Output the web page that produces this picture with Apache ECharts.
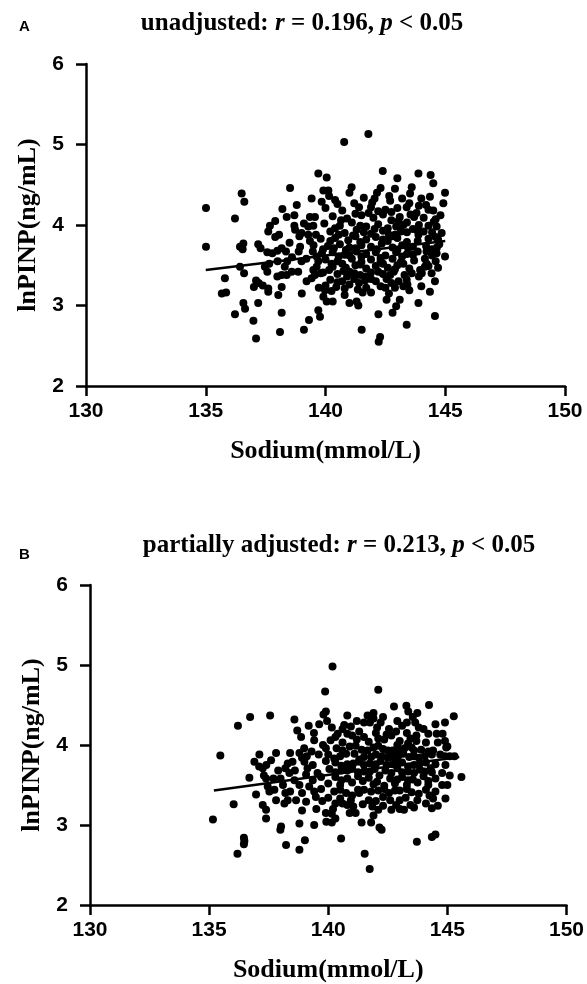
<!DOCTYPE html>
<html>
<head>
<meta charset="utf-8">
<script src="https://cdn.jsdelivr.net/npm/echarts@6/dist/echarts.min.js"></script>
<style>
html,body{margin:0;padding:0;background:#fff;}
#chart{width:587px;height:984px;}
</style>
</head>
<body>
<div id="chart"></div>
<script>
// ---- Data ----
const xTicks = [130, 135, 140, 145, 150];
const yTicks = [2, 3, 4, 5, 6];
const titleA = 'unadjusted: {i|r} = 0.196, {i|p} < 0.05';
const titleB = 'partially adjusted: {i|r} = 0.213, {i|p} < 0.05';
const xName = 'Sodium(mmol/L)';
const yName = 'lnPINP(ng/mL)';

// Panel A: [sodium, lnPINP]
const scatterA = [
[139.70,4.64],[140.05,4.59],[138.52,4.46],[136.50,4.39],[136.61,4.29],[135.01,4.21],[136.22,4.08],[139.42,4.33],[139.91,4.43],[139.84,4.29],
[138.38,4.10],[138.70,4.12],[137.68,3.99],[137.61,3.92],[138.06,3.88],[138.70,3.99],[138.73,3.94],[138.91,3.86],[139.35,4.10],[139.56,4.10],
[139.28,3.98],[139.49,3.99],[139.28,3.88],[139.35,3.80],[135.01,3.73],[136.43,3.73],[136.57,3.77],[136.54,3.70],[137.19,3.76],[137.29,3.71],
[137.57,3.66],[137.78,3.65],[137.99,3.68],[138.17,3.71],[138.35,3.67],[138.94,3.73],[138.88,3.67],[139.50,3.75],[139.47,3.67],[139.63,3.61],
[136.43,3.48],[136.60,3.40],[135.80,3.34],[137.47,3.48],[137.57,3.42],[137.65,3.52],[137.99,3.36],[138.17,3.38],[138.38,3.38],[138.59,3.42],
[138.86,3.42],[137.10,3.31],[137.21,3.28],[137.38,3.25],[137.01,3.23],[137.61,3.21],[137.61,3.17],[138.17,3.23],[138.03,3.13],[135.67,3.15],
[135.85,3.16],[139.01,3.15],[139.21,3.30],[139.42,3.34],[139.56,3.38],[139.63,3.48],[139.49,3.44],[136.57,3.03],[136.64,2.96],[137.19,3.03],
[136.22,2.89],[136.99,2.81],[138.17,2.91],[138.10,2.67],[137.10,2.59],[139.10,2.70],[139.31,2.82],[139.77,2.86],[139.70,2.94],[139.91,3.11],
[140.05,3.05],[139.98,3.19],[139.72,3.22],
[138.50,3.78],[139.00,3.55],[138.40,3.55],[139.70,3.55],[139.10,4.02],[138.00,3.55],[137.90,4.05],
[138.2,4.20],[138.8,4.25],[139.0,3.90],[139.2,3.58],[138.6,3.60],[137.9,3.85],[138.3,3.48],[139.8,3.40],[139.6,3.88],[139.9,3.70],
[141.79,5.13],[140.78,5.03],[142.39,4.67],[143.88,4.64],[144.39,4.62],[144.50,4.52],[143.00,4.58],[141.09,4.47],[140.12,4.43],[144.99,4.40],
[144.92,4.27],[143.53,4.39],[144.36,4.35],[142.66,4.36],[142.30,4.46],[142.15,4.40],[142.05,4.33],[141.95,4.28],[141.90,4.22],[144.20,4.25],
[143.39,4.22],[143.80,4.15],[143.70,4.10],[143.55,4.13],[144.50,4.18],[144.52,4.04],[143.10,4.10],[143.05,4.05],[142.95,3.98],[143.90,4.00],
[143.85,3.93],[143.88,3.88],[144.64,3.98],[144.60,3.85],[144.70,3.82],[144.75,3.76],[144.65,3.72],[144.99,3.61],[144.64,3.65],[144.22,3.67],
[144.22,3.52],[144.15,3.48],[143.95,3.44],[143.90,3.36],[144.02,3.40],[144.43,3.40],[144.57,3.30],[144.36,3.17],[143.88,3.03],[144.57,2.87],
[143.39,2.76],[143.10,3.07],[142.95,2.99],[142.80,2.91],[142.21,2.89],[141.51,2.70],[142.28,2.61],[142.22,2.55],[143.39,3.32],[143.50,3.19],
[143.42,3.26],[142.65,3.15],[142.55,3.07],[141.90,3.16],[141.70,3.22],[141.55,3.16],[141.30,3.05],[141.00,3.03],[140.80,3.13],[140.30,3.05],
[141.37,3.00],
[140.4,4.31],[141.2,4.27],[142.7,4.30],[143.2,4.33],
[140.0,4.21],[140.7,4.18],[141.4,4.22],[142.5,4.19],[143.0,4.21],[143.9,4.24],
[140.3,4.11],[140.9,4.08],[141.5,4.12],[142.0,4.09],[142.4,4.13],[144.1,4.09],[144.8,4.12],
[139.95,4.02],[140.6,3.99],[141.1,4.03],[141.7,3.98],[142.2,4.01],[142.6,3.96],[143.4,4.03],[144.3,3.99],
[140.2,3.92],[140.8,3.90],[141.3,3.94],[141.9,3.89],[142.4,3.93],[142.9,3.88],[143.4,3.91],[144.1,3.92],
[139.8,3.83],[140.4,3.84],[140.95,3.81],[141.25,3.86],[141.7,3.82],[142.1,3.85],[142.6,3.80],[143.0,3.84],[143.4,3.79],[144.3,3.83],
[140.1,3.74],[140.6,3.76],[141.0,3.72],[141.5,3.75],[141.9,3.73],[142.35,3.77],[142.8,3.72],[143.2,3.75],[143.65,3.73],[144.2,3.74],
[139.85,3.65],[140.3,3.66],[140.8,3.63],[141.3,3.67],[141.7,3.64],[142.1,3.66],[142.5,3.62],[142.95,3.66],[143.4,3.64],[143.85,3.67],[144.45,3.62],
[140.0,3.57],[140.5,3.55],[141.1,3.58],[141.5,3.54],[141.9,3.57],[142.3,3.55],[142.8,3.58],[143.15,3.54],[143.7,3.56],[144.6,3.55],
[140.3,3.48],[140.85,3.47],[141.25,3.50],[141.7,3.46],[142.1,3.49],[142.6,3.47],[143.0,3.50],[143.5,3.46],[144.7,3.47],
[139.9,3.41],[140.5,3.39],[141.0,3.42],[141.45,3.38],[141.9,3.41],[142.4,3.39],[142.85,3.42],[143.3,3.38],
[140.2,3.32],[140.7,3.30],[141.2,3.33],[141.65,3.31],[142.1,3.30],[142.55,3.33],[143.05,3.30],
[140.0,3.25],[140.45,3.23],[141.0,3.26],[142.3,3.24],[142.9,3.22],[144.0,3.24],
[140.15,4.36],[141.6,4.34],[142.9,4.45],[143.6,4.47],[144.0,4.33],[141.0,4.40],
[140.5,4.26],[141.8,4.15],[142.75,4.16],[143.5,4.27],[144.3,4.19],
[140.65,4.06],[141.25,4.14],[142.2,4.17],[142.75,4.06],[143.25,4.00],[144.6,4.07],
[140.4,3.96],[141.45,3.99],[142.05,3.95],[143.65,3.95],[144.45,3.91],
[140.55,3.88],[141.15,3.87],[141.6,3.91],[142.65,3.88],[143.15,3.92],[144.85,3.90],
[140.2,3.80],[141.45,3.79],[142.4,3.82],[142.8,3.86],[143.85,3.80],
[140.35,3.71],[140.85,3.69],[141.25,3.71],[142.15,3.70],[143.0,3.69],[143.45,3.71],[144.45,3.70],
[140.55,3.61],[141.0,3.62],[141.5,3.61],[142.3,3.59],[143.2,3.61],[143.65,3.63],[144.15,3.58],
[140.25,3.52],[140.7,3.52],[141.45,3.51],[142.4,3.52],[142.9,3.45],[143.25,3.52],[144.3,3.49],
[140.15,3.44],[140.75,3.43],[141.2,3.40],[141.7,3.36],[142.2,3.42],[142.7,3.38],[143.6,3.40],
[140.5,3.29],[140.9,3.36],[141.4,3.28],[141.9,3.33],[142.75,3.28],[143.25,3.24],
[140.25,3.18],[140.8,3.21],[141.35,3.20],[142.5,3.22]
];
const fitA = [[135.0,3.44],[145.0,3.80]];

// Panel B: [sodium, lnPINP]
const scatterB = [
[136.72,4.35],[137.56,4.37],[136.21,4.24],[138.58,4.32],[139.18,4.24],[139.80,4.38],[139.90,4.42],[139.62,4.26],[138.86,4.10],[139.41,4.06],
[138.99,3.96],[139.78,4.00],[139.90,3.96],[135.47,3.87],[137.11,3.88],[136.90,3.79],[137.81,3.90],[137.60,3.81],[137.40,3.75],[137.25,3.71],
[137.10,3.73],[138.30,3.77],[138.20,3.71],[138.50,3.79],[138.79,3.90],[139.00,3.79],[139.13,3.71],[139.35,3.75],[139.55,3.65],[136.69,3.59],
[137.39,3.58],[137.30,3.62],[138.37,3.65],[138.58,3.56],[138.79,3.50],[139.07,3.63],[139.35,3.56],[137.46,3.48],[137.53,3.42],[137.74,3.44],
[136.97,3.38],[137.25,3.25],[137.39,3.19],[136.03,3.26],[137.81,3.31],[138.20,3.40],[138.30,3.31],[138.16,3.27],[138.65,3.31],[139.07,3.29],
[139.41,3.42],[139.48,3.35],[138.90,3.18],[135.16,3.07],[137.39,3.08],[138.02,2.98],[138.79,3.02],[139.41,3.00],[139.90,3.15],[139.92,3.04],
[138.0,3.58],[138.1,3.50],[138.9,3.84],[139.6,3.88],[139.3,3.92],[139.7,3.45],[139.2,3.48],[138.6,3.68],[139.75,3.30],[139.5,3.20],[138.4,3.90],[137.9,3.68],
[138.7,4.18],[139.1,3.86],[138.4,3.42],[137.7,3.58],[138.9,3.40],[139.7,3.60],[139.9,3.80],[139.4,4.15],
[140.18,4.98],[139.87,4.67],[142.10,4.69],[142.76,4.48],[143.28,4.49],[143.36,4.42],[144.23,4.50],[143.74,4.40],[145.27,4.36],[144.90,4.28],
[141.90,4.40],[141.65,4.37],[141.90,4.33],[141.50,4.28],[141.75,4.28],[142.20,4.28],[142.05,4.22],[140.80,4.37],[140.67,4.25],[140.95,4.23],
[140.15,4.22],[139.95,4.30],[143.10,4.24],[143.30,4.28],[143.65,4.28],[143.80,4.22],[144.00,4.20],[144.20,4.14],[144.55,4.14],[144.80,4.14],
[145.00,3.98],[142.55,4.20],[142.45,4.13],[142.35,4.07],[142.65,4.12],[143.00,4.05],[142.90,4.00],[143.35,4.02],[143.60,3.93],[143.90,3.94],
[144.20,3.92],[144.40,3.93],[144.70,3.88],[144.90,3.86],[145.10,3.86],[145.30,3.86],[144.92,3.75],[145.59,3.60],[144.78,3.65],[144.78,3.50],
[144.92,3.33],[144.20,3.50],[144.10,3.44],[144.10,3.27],[143.74,3.31],[143.00,3.31],[142.85,3.25],[142.65,3.19],[142.60,3.31],[143.18,3.19],
[142.10,3.19],[141.85,3.23],[141.90,3.12],[141.70,3.31],[141.50,3.44],[141.30,3.40],[141.25,3.44],[140.95,3.31],[140.80,3.25],[141.05,3.23],
[141.15,3.15],[140.90,3.15],[140.20,3.20],[140.15,3.14],[140.30,3.08],[140.15,3.03],[141.40,3.03],[141.80,3.03],[142.15,2.97],
[136.19,2.64],[136.46,2.84],[136.48,2.80],[136.46,2.76],[138.23,2.75],[138.79,2.69],[139.02,2.81],[140.54,2.83],[141.53,2.64],[141.74,2.45],
[143.72,2.79],[144.35,2.85],[144.50,2.88],[142.24,2.94],[137.99,2.94],
[140.4,4.14],[141.0,4.12],[141.3,4.17],[143.3,4.15],[143.7,4.12],
[140.1,4.06],[140.6,4.03],[141.2,4.07],[141.7,4.04],[142.1,4.08],[143.7,4.05],[144.6,4.03],
[140.35,3.96],[140.9,3.98],[141.4,3.94],[141.9,3.97],[142.3,3.95],[142.7,3.93],[143.2,3.96],
[140.0,3.88],[140.5,3.86],[141.1,3.89],[141.5,3.85],[142.0,3.88],[142.5,3.84],[142.95,3.87],[143.4,3.85],[143.8,3.84],
[140.3,3.78],[140.8,3.76],[141.3,3.79],[141.75,3.77],[142.2,3.80],[142.7,3.76],[143.1,3.78],[143.6,3.75],[144.1,3.78],[144.5,3.76],
[140.05,3.70],[140.55,3.68],[141.0,3.71],[141.5,3.67],[141.95,3.70],[142.4,3.68],[142.9,3.71],[143.35,3.67],[143.85,3.69],[144.35,3.66],
[140.3,3.60],[140.8,3.58],[141.25,3.61],[141.7,3.59],[142.15,3.62],[142.6,3.58],[143.1,3.60],[143.55,3.57],[144.0,3.61],[144.5,3.58],[145.1,3.62],
[140.0,3.52],[140.5,3.50],[141.0,3.53],[141.9,3.51],[142.35,3.49],[142.8,3.52],[143.3,3.50],[143.75,3.53],[145.0,3.50],
[140.25,3.42],[140.75,3.40],[142.1,3.43],[142.55,3.40],[143.0,3.43],[143.5,3.41],[144.5,3.42],
[140.0,3.34],[140.5,3.33],[142.3,3.35],[143.25,3.34],[144.4,3.33],
[140.6,3.27],[141.45,3.26],[143.45,3.25],[144.6,3.24],
[140.6,4.20],[141.2,4.30],[142.3,4.35],[142.9,4.30],[143.55,4.35],[144.5,4.26],
[140.3,4.10],[140.8,4.14],[141.5,4.10],[142.0,4.15],[142.85,4.17],[143.45,4.08],[144.1,4.03],[144.9,4.05],
[140.6,3.93],[141.15,3.99],[141.65,3.93],[142.1,3.99],[142.5,3.93],[142.95,3.95],[143.5,3.97],[144.35,3.88],[144.95,3.97],
[140.25,3.83],[140.75,3.89],[141.3,3.82],[141.8,3.85],[142.25,3.86],[142.7,3.85],[143.15,3.89],[143.6,3.86],[144.05,3.86],
[140.55,3.74],[141.05,3.77],[141.5,3.75],[142.0,3.76],[142.45,3.75],[142.9,3.79],[143.35,3.73],[143.85,3.77],[144.3,3.71],
[140.3,3.66],[140.8,3.68],[141.25,3.66],[141.75,3.67],[142.65,3.65],[143.1,3.66],[143.6,3.65],[144.05,3.67],
[140.55,3.56],[141.45,3.55],[142.05,3.54],[142.9,3.57],[143.35,3.56],[144.2,3.55],
[140.5,3.44],[141.8,3.42],[142.35,3.45],[142.8,3.43],[143.3,3.45],[143.8,3.39],[144.25,3.37],
[140.3,3.27],[141.0,3.37],[142.0,3.30],[142.3,3.24],[143.0,3.20],[143.6,3.22],[144.35,3.21]
];
const fitB = [[135.2,3.43],[145.5,3.85]];

// ---- Styling ----
const BLACK = '#000';
const serif = 'Liberation Serif, Times New Roman, serif';
const sans = 'Liberation Sans, Arial, sans-serif';

function xAxisCfg(gi) {
  return {
    gridIndex: gi, type: 'value', min: xTicks[0], max: xTicks[xTicks.length - 1], interval: 5,
    axisLine: { show: true, onZero: false, lineStyle: { color: BLACK, width: 2.5 } },
    axisTick: { show: true, length: 10, lineStyle: { color: BLACK, width: 2.5 } },
    axisLabel: { show: true, color: BLACK, fontFamily: sans, fontWeight: 'bold', fontSize: 21, margin: 15 },
    splitLine: { show: false },
    name: xName, nameLocation: 'middle', nameGap: 52,
    nameTextStyle: { fontFamily: serif, fontWeight: 'bold', fontSize: 26, color: BLACK }
  };
}
function yAxisCfg(gi) {
  return {
    gridIndex: gi, type: 'value', min: yTicks[0], max: yTicks[yTicks.length - 1], interval: 1,
    axisLine: { show: true, onZero: false, lineStyle: { color: BLACK, width: 2.5 } },
    axisTick: { show: true, length: 10, lineStyle: { color: BLACK, width: 2.5 } },
    axisLabel: { show: true, color: BLACK, fontFamily: sans, fontWeight: 'bold', fontSize: 21, margin: 22 },
    splitLine: { show: false },
    name: yName, nameLocation: 'middle', nameGap: 35, nameRotate: 90,
    nameTextStyle: { fontFamily: serif, fontWeight: 'bold', fontSize: 26, color: BLACK }
  };
}
const titleStyle = {
  fontFamily: serif, fontWeight: 'bold', fontSize: 25, color: BLACK,
  rich: { i: { fontFamily: serif, fontWeight: 'bold', fontStyle: 'italic', fontSize: 25, color: BLACK } }
};

const chart = echarts.init(document.getElementById('chart'), null, { renderer: 'canvas' });
chart.setOption({
  backgroundColor: '#fff',
  animation: false,
  title: [
    { text: titleA, left: 297, top: 6, textAlign: 'center', textStyle: titleStyle },
    { text: titleB, left: 334, top: 528, textAlign: 'center', textStyle: titleStyle },
    { text: 'A', left: 14, top: 14, textStyle: { fontFamily: sans, fontWeight: 'bold', fontSize: 15, color: BLACK } },
    { text: 'B', left: 14, top: 542, textStyle: { fontFamily: sans, fontWeight: 'bold', fontSize: 15, color: BLACK } }
  ],
  grid: [
    { left: 86, top: 64, width: 479, height: 322 },
    { left: 90, top: 585, width: 478, height: 320 }
  ],
  xAxis: [xAxisCfg(0), xAxisCfg(1)],
  yAxis: [yAxisCfg(0), yAxisCfg(1)],
  series: [
    { type: 'scatter', xAxisIndex: 0, yAxisIndex: 0, data: scatterA, symbolSize: 8, itemStyle: { color: BLACK, opacity: 1 }, z: 2 },
    { type: 'line', xAxisIndex: 0, yAxisIndex: 0, data: fitA, showSymbol: false, symbol: 'none', lineStyle: { color: BLACK, width: 2.5 }, z: 3 },
    { type: 'scatter', xAxisIndex: 1, yAxisIndex: 1, data: scatterB, symbolSize: 8, itemStyle: { color: BLACK, opacity: 1 }, z: 2 },
    { type: 'line', xAxisIndex: 1, yAxisIndex: 1, data: fitB, showSymbol: false, symbol: 'none', lineStyle: { color: BLACK, width: 2.5 }, z: 3 }
  ]
});
</script>
</body>
</html>
